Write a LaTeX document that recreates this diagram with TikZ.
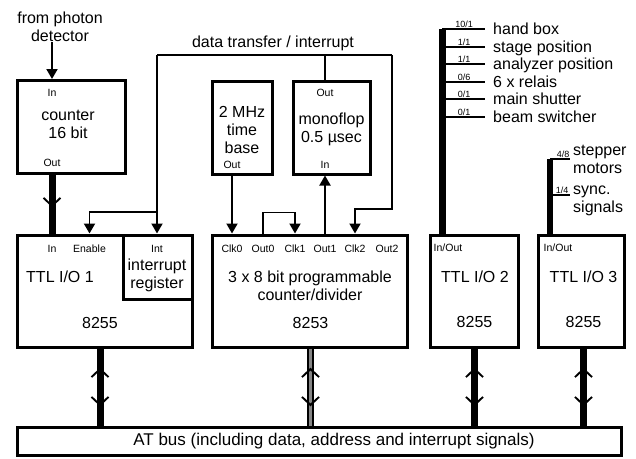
\documentclass[tikz,border=0pt]{standalone}
\usepackage{fontspec}
\setmainfont{Liberation Sans}
\usepackage{tikz}
\usetikzlibrary{arrows.meta, positioning, calc, decorations.markings}
\definecolor{busgray}{HTML}{858585}
\newcommand{\bigtxt}{\fontsize{16}{18}\selectfont}
\newcommand{\pintxt}{\fontsize{10.5}{12}\selectfont}
\newcommand{\bittxt}{\fontsize{9}{10}\selectfont}
\tikzstyle{block} = [rectangle, draw=black, line width=3pt, inner sep=0pt]
\tikzstyle{pin} = [inner sep=0pt, font=\pintxt]
\tikzstyle{txt} = [inner sep=0pt, align=center, font=\bigtxt]
\tikzstyle{tap} = [anchor=west, inner sep=0pt, font=\bigtxt, text height=11pt, text depth=0pt]
\tikzstyle{tapm} = [anchor=west, inner sep=0pt, align=left, font=\bigtxt]
\tikzstyle{bitlbl} = [anchor=south, inner sep=1.5pt, font=\bittxt, text depth=0pt]
\tikzstyle{sig} = [line width=1.9pt, -{Triangle[length=10pt,width=11pt]}]
\tikzstyle{wire} = [line width=1.9pt]
\tikzstyle{busbar} = [line width=7pt, black]
\tikzstyle{chevron} = [postaction={decorate}, decoration={markings,
  mark=at position 0.55 with {\arrow[black]{Straight Barb[length=8pt,width=17pt,line width=1.9pt]}}}]
\tikzstyle{chevrons} = [postaction={decorate}, decoration={markings,
  mark=at position 0.25 with {\arrowreversed[black]{Straight Barb[length=8pt,width=17pt,line width=1.9pt]}},
  mark=at position 0.75 with {\arrow[black]{Straight Barb[length=8pt,width=17pt,line width=1.9pt]}}}]

\begin{document}
\begin{tikzpicture}[x=1pt, y=-1pt]
  \useasboundingbox (0,0) rectangle (636,458);

  % photon counter
  \node[txt] (src) at (60,27) {from photon\\detector};
  \node[block, minimum width=108pt, minimum height=93pt] (cnt) at (71,127) {};
  \node[pin] (cntin) at (52,93) {In};
  \node[txt] (cnttxt) at (68,124) {counter\\16 bit};
  \node[pin] (cntout) at (52,163) {Out};

  % TTL I/O 1 with interrupt register
  \node[block, minimum width=175pt, minimum height=112pt] (io1) at (104.5,291) {};
  \node[block, minimum width=69pt, minimum height=64pt] (irq) at (157.5,267) {};
  \node[pin] (io1in) at (52,249) {In};
  \node[pin] (io1en) at (89.5,249) {Enable};
  \node[pin] (irqin) at (157,249) {Int};
  \node[txt] (irqtxt) at (157,275.5) {interrupt\\register};
  \node[txt] (io1name) at (60,277) {TTL I/O 1};
  \node[txt] (io1chip) at (100,323) {8255};

  % time base and monoflop
  \node[block, minimum width=60pt, minimum height=93pt] (tbase) at (242,127.5) {};
  \node[txt] (tbtxt) at (242,129.5) {2 MHz\\time\\base};
  \node[pin] (tbout) at (232,165) {Out};
  \node[block, minimum width=77pt, minimum height=93pt] (mono) at (331.5,127.5) {};
  \node[pin] (monoout) at (325,93) {Out};
  \node[txt] (monotxt) at (331.5,129) {monoflop\\0.5 µsec};
  \node[pin] (monoin) at (325,165) {In};

  % 8253 counter/divider
  \node[block, minimum width=195pt, minimum height=112pt] (pcc) at (309.5,291) {};
  \foreach \nm/\xx in {Clk0/232, Out0/263, Clk1/295, Out1/325, Clk2/355, Out2/387}
    \node[pin] (\nm) at (\xx,249) {\nm};
  \node[txt] (pcctxt) at (310,286) {3 x 8 bit programmable\\counter/divider};
  \node[txt] (pccchip) at (310.5,323) {8253};

  % TTL I/O 2 and 3
  \node[block, minimum width=88pt, minimum height=112pt] (io2) at (474,291) {};
  \node[pin] (io2pin) at (448,248) {In/Out};
  \node[txt] (io2name) at (475,277) {TTL I/O 2};
  \node[txt] (io2chip) at (474.5,322) {8255};
  \node[block, minimum width=86pt, minimum height=112pt] (io3) at (581,291) {};
  \node[pin] (io3pin) at (558,248) {In/Out};
  \node[txt] (io3name) at (583.5,277) {TTL I/O 3};
  \node[txt] (io3chip) at (583.5,322) {8255};

  % AT bus
  \node[block, minimum width=604pt, minimum height=28pt] (atbus) at (319,441) {};
  \node[txt, font=\fontsize{17}{19}\selectfont] (bustxt) at (334,441)
    {AT bus (including data, address and interrupt signals)};

  % data transfer / interrupt line
  \node[txt] (dtlbl) at (273,43) {data transfer / interrupt};
  \coordinate (dtl) at (157,55);
  \coordinate (dtr) at (392,55);
  \coordinate (brn) at (157,212);
  \coordinate (dtd) at (392,209);
  \draw[wire] (dtl) -- (dtr);
  \draw[wire] (monoout |- mono.north) -- (monoout |- dtl);
  \draw[sig] (dtl) -- (irqin |- irq.north);
  \draw[sig] (brn) -| (io1en |- io1.north);
  \draw[sig] (dtr) -- (dtd) -| (Clk2 |- pcc.north);

  % signal arrows
  \draw[sig] (src.south -| cntin) -- (cntin |- cnt.north);
  \draw[sig] (tbout |- tbase.south) -- (Clk0 |- pcc.north);
  \draw[sig] (Out0 |- pcc.north) -- ++(0,-21) -| (Clk1 |- pcc.north);
  \draw[sig] (Out1 |- pcc.north) -- (monoin |- mono.south);

  % data buses
  \draw[busbar, chevron] (cntout |- cnt.south) -- (io1in |- io1.north);
  \draw[busbar, chevrons] (io1chip |- io1.south) -- (io1chip |- atbus.north);
  \draw[busbar, postaction={draw, busgray, line width=3.5pt}, chevrons]
    (pccchip |- pcc.south) -- (pccchip |- atbus.north);
  \draw[busbar, chevrons] (io2chip |- io2.south) -- (io2chip |- atbus.north);
  \draw[busbar, chevrons] (io3chip |- io3.south) -- (io3chip |- atbus.north);

  % TTL I/O 2 lines
  \coordinate (io2top) at (442,29);
  \foreach \yy/\bits/\what [count=\i] in {29/{10/1}/hand box, 47/{1/1}/stage position,
      64/{1/1}/analyzer position, 82/{0/6}/6 x relais, 99/{0/1}/main shutter, 117/{0/1}/beam switcher} {
    \node[tap] (line\i) at (493,\yy) {\what};
    \node[bitlbl] (bits\i) at (464,\yy) {\bits};
    \draw[wire] (io2top |- line\i.west) -- ([xshift=-8pt]line\i.west);
  }
  \draw[busbar] (io2top) -- (io2top |- io2.north);

  % TTL I/O 3 lines
  \coordinate (io3top) at (550,159);
  \coordinate (synat) at (570,195);
  \node[tapm] (stp) at (573,159.5) {stepper\\motors};
  \node[bitlbl] (stpbits) at (563,159) {4/8};
  \draw[wire] (io3top) -- (io3top -| synat);
  \node[tapm] (syn) at (573,201) {sync.\\signals};
  \node[bitlbl] (synbits) at (562,195) {1/4};
  \draw[wire] (io3top |- synat) -- (synat);
  \draw[busbar, line width=5.5pt] (io3top) -- (io3top |- io3.north);
\end{tikzpicture}
\end{document}
